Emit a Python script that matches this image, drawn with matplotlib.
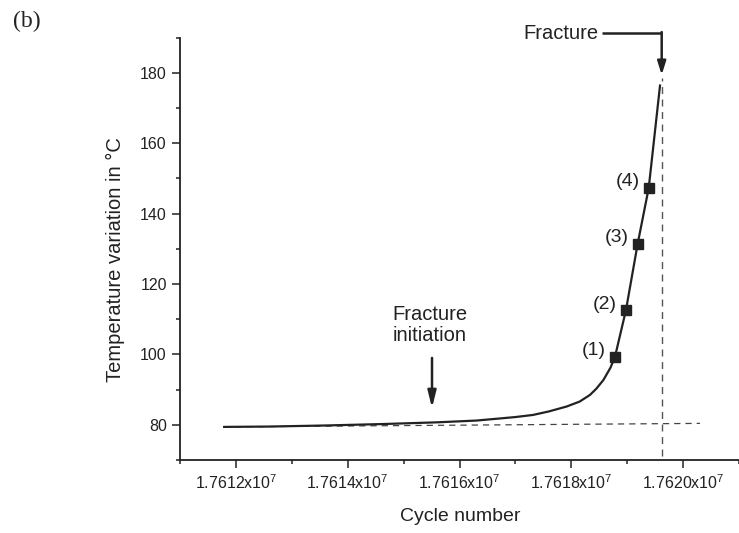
import matplotlib
matplotlib.use("Agg")
import matplotlib.pyplot as plt

# curve
cycles = [17611790, 17612600, 17613600, 17614600, 17615600, 17616300,
          17616725, 17617000, 17617315, 17617600, 17617918, 17618150,
          17618335, 17618450, 17618573, 17618700, 17618781, 17618978,
          17619188, 17619385, 17619587]
temperature = [79.4, 79.5, 79.8, 80.2, 80.7, 81.2,
               81.8, 82.2, 82.8, 83.8, 85.2, 86.6,
               88.5, 90.3, 92.7, 96.2, 99.3, 112.6,
               131.5, 147.3, 176.4]

# marked points (1)-(4)
mark_cycles = [17618781, 17618978, 17619188, 17619385]
mark_temps = [99.3, 112.6, 131.5, 147.3]
mark_labels = ["(1)", "(2)", "(3)", "(4)"]

xtick_values = [17612000, 17614000, 17616000, 17618000, 17620000]
xtick_labels = ["1.7612x10$^{7}$", "1.7614x10$^{7}$", "1.7616x10$^{7}$",
                "1.7618x10$^{7}$", "1.7620x10$^{7}$"]
ytick_values = [80, 100, 120, 140, 160, 180]

# guide lines and annotations
base_start = (17611790, 79.4)
base_end = (17620302, 80.4)
fracture_cycle = 17619617
fracture_span = (71.0, 178.5)
fracture_tip = 179.4
fracture_bar_y = 191.3
fracture_text_x = 17618478
fracture_bar_x = 17618544
init_text = (17615472, 108.4)
init_arrow_x = 17615508
init_arrow = (99.0, 84.8)

INK = "#222222"

plt.rcParams["font.family"] = ["Liberation Sans", "DejaVu Sans"]
plt.rcParams["mathtext.default"] = "regular"

fig = plt.figure(figsize=(7.39, 5.33), dpi=100)
ax = fig.add_axes([0.2436, 0.137, 0.7564, 0.7923])

ax.plot(cycles, temperature, color=INK, lw=1.6, zorder=3)
ax.plot(mark_cycles, mark_temps, "s", color=INK, ms=6.5, zorder=4)
for cx, ty, lab in zip(mark_cycles, mark_temps, mark_labels):
    ax.annotate(lab, (cx, ty), xytext=(-21, 6), textcoords="offset pixels",
                ha="center", va="center", fontsize=14, color=INK)

# dashed guides
ax.plot([base_start[0], base_end[0]], [base_start[1], base_end[1]],
        color="#444444", lw=0.9, dashes=(5, 4), zorder=2)
ax.plot([fracture_cycle, fracture_cycle], list(fracture_span),
        color="#555555", lw=1.0, dashes=(5, 4), zorder=2)

# fracture arrow
ax.plot([fracture_bar_x, fracture_cycle], [fracture_bar_y, fracture_bar_y],
        color=INK, lw=1.8, clip_on=False, solid_capstyle="butt")
ax.annotate("", xy=(fracture_cycle, fracture_tip),
            xytext=(fracture_cycle, fracture_bar_y + 0.3),
            arrowprops=dict(arrowstyle="-|>,head_length=0.8,head_width=0.25",
                            color=INK, lw=1.8, shrinkA=0, shrinkB=0),
            annotation_clip=False)
ax.text(fracture_text_x, fracture_bar_y, "Fracture", ha="right", va="center",
        fontsize=14.5, color=INK, clip_on=False)

# fracture initiation arrow
ax.text(init_text[0], init_text[1], "Fracture\ninitiation", ha="center",
        va="center", fontsize=14.5, color=INK, linespacing=1.15)
ax.annotate("", xy=(init_arrow_x, init_arrow[1]),
            xytext=(init_arrow_x, init_arrow[0]),
            arrowprops=dict(arrowstyle="-|>,head_length=1.0,head_width=0.25",
                            color=INK, lw=1.8, shrinkA=0, shrinkB=0))

ax.set_xlim(17611000, 17621000)
ax.set_ylim(70, 190)
ax.set_xticks(xtick_values)
ax.set_xticklabels(xtick_labels)
ax.set_xticks(range(17611000, 17622000, 1000), minor=True)
ax.set_yticks(ytick_values)
ax.set_yticks(range(70, 191, 10), minor=True)

for side in ["top", "right"]:
    ax.spines[side].set_visible(False)
for side in ["left", "bottom"]:
    ax.spines[side].set_linewidth(1.3)
    ax.spines[side].set_color(INK)

ax.tick_params(which="major", direction="out", length=6, width=1.1,
               color=INK, labelsize=11.5, labelcolor=INK, pad=3.5)
ax.tick_params(which="minor", direction="out", length=3, width=1.1, color=INK)

ax.set_xlabel("Cycle number", fontsize=14, color=INK)
ax.set_ylabel("Temperature variation in °C", fontsize=14.5, color=INK)
ax.xaxis.set_label_coords(0.501, -0.113)
ax.yaxis.set_label_coords(-0.098, 0.474)

fig.text(27 / 739, 1 - 21 / 533, "(b)", family="Liberation Serif",
         fontsize=17, ha="center", va="center", color=INK)

fig.savefig("out.png", dpi=100)
